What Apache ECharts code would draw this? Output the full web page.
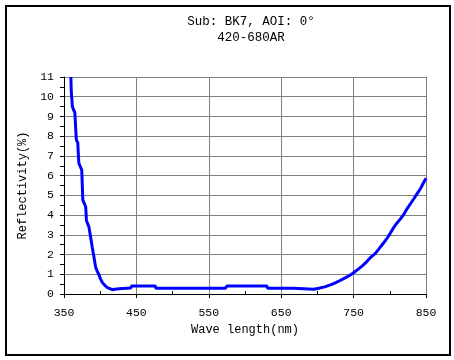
<!DOCTYPE html>
<html>
<head>
<meta charset="utf-8">
<script src="https://cdn.jsdelivr.net/npm/echarts@6/dist/echarts.min.js"></script>
<style>
html,body{margin:0;padding:0;background:#fff;}
#chart{width:454px;height:360px;}
</style>
</head>
<body>
<div id="chart"></div>
<script>
// Data
const titleLines = ['Sub: BK7, AOI: 0°', '420-680AR'];
const xName = 'Wave length(nm)';
const yName = 'Reflectivity(%)';

const xMajorTicks = [350, 450, 550, 650, 750, 850];
const xMinorTicks = [400, 500, 600, 700, 800];

const wavelength = [
  359.5, 360, 361.5, 362.5, 365, 366, 367, 369, 370.5, 372,
  374.5, 376, 378, 380, 381, 384.5, 386.8, 389, 391.4, 393.7,
  396, 398, 400, 403, 406, 410, 416.7, 420, 426, 442,
  443.5, 476, 477, 573, 575, 630, 631.5, 667, 668.5, 695,
  702, 710, 718, 724, 730, 739, 745, 750.5, 756, 762,
  768, 773.6, 780, 785, 791, 796.6, 801, 805.8, 810, 815,
  820, 824, 829, 833.4, 838, 842.7, 846, 850
];
const reflectivity = [
  11, 10.3, 9.53, 9.4, 9.19, 8.5, 7.83, 7.66, 6.63, 6.5,
  6.29, 4.76, 4.6, 4.41, 3.73, 3.39, 2.88, 2.37, 1.86, 1.35,
  1.15, 1.0, 0.8, 0.58, 0.45, 0.32, 0.22, 0.24, 0.27, 0.3,
  0.41, 0.41, 0.29, 0.29, 0.41, 0.41, 0.29, 0.29, 0.24, 0.24,
  0.29, 0.36, 0.46, 0.55, 0.66, 0.83, 0.95, 1.09, 1.25, 1.43,
  1.63, 1.86, 2.06, 2.29, 2.57, 2.85, 3.1, 3.39, 3.6, 3.82,
  4.08, 4.33, 4.6, 4.84, 5.1, 5.36, 5.6, 5.87
];

const seriesData = wavelength.map((w, i) => [w, reflectivity[i]]);
const FONT = '"Liberation Mono", "DejaVu Sans Mono", monospace';

const chart = echarts.init(document.getElementById('chart'), null, {renderer: 'canvas'});
chart.setOption({
  backgroundColor: '#ffffff',
  animation: false,
  title: {
    text: titleLines.join('\n'),
    left: 246, top: 9,
    textAlign: 'center',
    textStyle: {fontFamily: FONT, fontSize: 12.5, fontWeight: 'normal', color: '#000', lineHeight: 16}
  },
  graphic: [{
    type: 'rect',
    shape: {x: 6, y: 6, width: 444, height: 349},
    style: {fill: 'none', stroke: '#000', lineWidth: 2},
    silent: true, z: 100
  }],
  grid: {left: 64, top: 77, right: 28, bottom: 66, containLabel: false},
  xAxis: [{
    type: 'value', min: 350, max: 850, interval: 50,
    name: xName, nameLocation: 'middle', nameGap: 28,
    nameTextStyle: {fontFamily: FONT, fontSize: 12, color: '#000'},
    axisLine: {show: true, lineStyle: {color: '#000', width: 1}},
    axisTick: {show: true, customValues: xMajorTicks, length: 4, lineStyle: {color: '#000'}},
    axisLabel: {customValues: xMajorTicks, fontFamily: FONT, fontSize: 11.5, color: '#000', margin: 13},
    splitLine: {show: true, lineStyle: {color: '#808080', width: 1}}
  }, {
    type: 'value', min: 350, max: 850, interval: 50, position: 'bottom',
    axisLine: {show: false},
    axisTick: {show: true, inside: true, customValues: xMinorTicks, length: 3, lineStyle: {color: '#000'}},
    axisLabel: {show: false},
    splitLine: {show: false}
  }],
  yAxis: {
    type: 'value', min: 0, max: 11, interval: 1,
    name: yName, nameLocation: 'middle', nameGap: 24,
    nameTextStyle: {fontFamily: FONT, fontSize: 12, color: '#000'},
    axisLine: {show: true, lineStyle: {color: '#000', width: 1}},
    axisTick: {show: true, length: 4, lineStyle: {color: '#000'}},
    minorTick: {show: true, splitNumber: 2, length: 4, lineStyle: {color: '#000'}},
    axisLabel: {fontFamily: FONT, fontSize: 11.5, color: '#000', margin: 10},
    splitLine: {show: true, lineStyle: {color: '#808080', width: 1}}
  },
  series: [{
    type: 'line',
    xAxisIndex: 0,
    data: seriesData,
    showSymbol: false,
    symbol: 'none',
    clip: true,
    lineStyle: {color: '#0000ff', width: 3},
    z: 5
  }]
});
</script>
</body>
</html>
